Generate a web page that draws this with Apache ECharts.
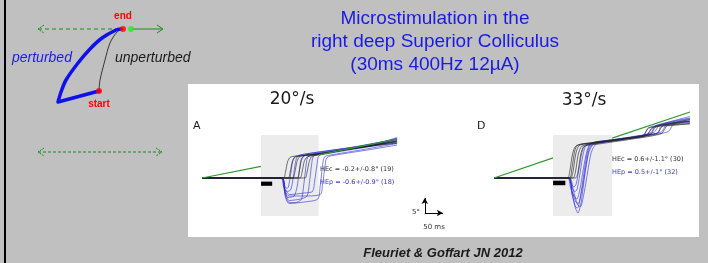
<!DOCTYPE html>
<html><head><meta charset="utf-8">
<script src="https://cdn.jsdelivr.net/npm/echarts/dist/echarts.min.js"></script>
<style>html,body{margin:0;padding:0;background:#c0c0c0;}#c{width:708px;height:263px;}</style>
</head><body><div id="c"></div>
<script>
// ---------- schematic (top-left) ----------
const schemPerturbed = [[99,91],[58,102],[61,92],[66,80],[78,63],[90,49],[102,38],[116,30],[121,29]];
const schemUnperturbed = [[99,91],[100,80],[105,60],[110,43],[117,32],[123,29]];
const schemDashTop = [[38,29],[119,29]];
const schemSolidTop = [[131,29],[162,29]];
const schemArrowL1 = [[44,25],[38,29],[44,33]];
const schemArrowR1 = [[157,25],[163,29],[157,33]];
const schemDashBottom = [[38,152],[162,152]];
const schemArrowL2 = [[44,148],[38,152],[44,156]];
const schemArrowR2 = [[156,148],[162,152],[156,156]];
const schemRedDots = [[99,91],[123,29]];
const schemGreenDot = [[131,29]];

// ---------- panel A (20 deg/s), time ms vs eye position deg ----------
const tStart = -164;
const shadeWinA = [0, 160], shadeDegA = [-12.7, 14.3];
const stimWinA = [0, 31], stimDegA = [-2.6, -1.2];
const targetA_pre = [[-164,0],[0,3.9]];
const targetA_post = [[160,7.7],[378,13.0]];
const blackA = [
  [[62,0],[68,2],[74,5.5],[82,7],[110,7.4],[160,8],[250,9.8],[320,11],[378,12.4]],
  [[75,0],[81,2],[87,5.5],[95,7],[130,7.6],[180,8.3],[260,10],[330,11.2],[378,12]],
  [[88,0],[94,2],[100,5.5],[108,7.2],[140,7.8],[200,8.8],[280,10.4],[378,12.8]],
  [[100,0],[106,2],[112,5.8],[120,7.4],[150,8],[220,9.2],[300,10.6],[378,11.6]],
  [[108,0],[114,2],[120,5.5],[128,7],[160,7.8],[230,9.3],[310,10.8],[378,13.2]],
  [[122,0],[128,2],[134,5.5],[142,7.2],[170,8],[240,9.5],[378,12.2]]
];
const blueA = [
  [[55,0],[63,-3],[72,-4.5],[82,-4],[88,-1],[94,4],[100,7],[115,7.8],[170,8.8],[260,10.3],[330,11.8],[378,13.5]],
  [[56,0],[65,-4],[75,-6.5],[92,-6],[100,-3],[106,2],[112,6.5],[125,7.6],[180,8.8],[270,10.5],[378,13]],
  [[57,0],[66,-5],[76,-8],[95,-8.2],[112,-7.2],[118,-3],[124,3],[130,7],[150,7.8],[220,9.2],[300,10.7],[378,12.6]],
  [[58,0],[67,-4.5],[78,-7.5],[110,-7],[128,-6],[134,-2],[140,4],[146,7.3],[170,8],[240,9.5],[378,12.2]],
  [[58,0],[68,-4],[80,-5.5],[120,-5],[143,-4.5],[149,-1],[155,4],[161,7.4],[190,8.2],[280,10],[378,11.8]],
  [[57,0],[67,-6],[78,-8.5],[120,-8],[158,-7],[164,-3],[170,3],[176,7],[200,7.8],[290,9.6],[378,11.5]],
  [[57,0],[65,-2.5],[72,-3.5],[76,-3],[82,1],[88,5.5],[95,7.2],[150,8.5],[250,10.2],[378,13]],
  [[57,0],[67,-4.5],[78,-6],[120,-6],[165,-5.5],[171,-2],[177,3],[183,6.8],[210,7.7],[300,9.4],[378,11]]
];
const scaleBarT = [455, 505];       // 50 ms
const scaleBarDeg = [-11.67, -6.67]; // 5 deg

// ---------- panel D (33 deg/s) ----------
const shadeWinD = [0, 164], shadeDegD = [-12.7, 14.3];
const stimWinD = [0, 34], stimDegD = [-2.4, -0.9];
const targetD_pre = [[-164,0],[0,6.7]];
const targetD_post = [[164,13.3],[380,22.0]];
const blackD = [
  [[40,0],[46,2],[54,8],[62,10.5],[80,11.3],[130,12],[200,13],[270,14.5],[285,17],[330,18.2],[380,19]],
  [[48,0],[55,2],[63,8],[72,10.8],[100,11.5],[160,12.4],[230,13.8],[290,15],[305,17.5],[380,18.8]],
  [[55,0],[62,2],[70,8],[80,10.6],[120,11.6],[200,13],[260,14.2],[275,16.8],[340,17.6],[380,18.2]],
  [[62,0],[69,2],[77,8],[86,10.5],[130,11.4],[210,12.8],[300,14.8],[318,17.5],[380,18]],
  [[45,0],[52,3],[60,9],[68,11],[110,11.8],[190,13.2],[250,14],[265,16.6],[380,19.5]]
];
const blueD = [
  [[40,0],[48,-3],[58,-6],[66,-7],[74,-4],[84,3],[94,9],[104,11.5],[140,12.2],[200,13.3],[260,14.6],[280,17],[340,18.5],[380,19.5]],
  [[42,0],[52,-5],[62,-9.5],[68,-10],[76,-6],[86,2],[96,9],[108,11.7],[160,12.6],[230,14],[300,15.3],[315,17.8],[380,19]],
  [[42,0],[52,-5],[62,-10],[69,-11.7],[78,-8],[88,1],[98,8],[112,11.2],[170,12.4],[240,13.8],[290,15],[300,17.2],[380,18.5]],
  [[44,0],[52,-3],[60,-4.5],[66,-4],[74,1],[82,7],[92,10.8],[130,11.8],[210,13.3],[270,15],[285,17.5],[380,20]],
  [[43,0],[53,-4.5],[63,-8],[70,-8.5],[80,-4],[90,3],[100,9.5],[114,11.8],[180,12.9],[250,14.2],[265,16.8],[380,19.8]],
  [[45,0],[56,-4],[68,-9],[76,-9.5],[86,-5],[96,2],[106,8.5],[120,11.3],[190,12.7],[260,14],[320,15.5],[335,18],[380,18.8]],
  [[42,0],[50,-2],[58,-3],[64,-2],[72,3],[80,8.5],[90,11],[150,12.2],[220,13.6],[280,15.2],[295,17.6],[380,20.5]]
];

// ---------- text ----------
const titleLines = ['Microstimulation in the', 'right deep Superior Colliculus', '(30ms 400Hz 12µA)'];
const panelTitles = ['20°/s', '33°/s'];
const panelLetters = ['A', 'D'];
const statsA = ['HEc = -0.2+/-0.8° (19)', 'HEp = -0.6+/-0.9° (18)'];
const statsD = ['HEc = 0.6+/-1.1° (30)', 'HEp = 0.5+/-1° (32)'];
const scaleLabels = ['5°', '50 ms'];
const citation = 'Fleuriet & Goffart JN 2012';

const chart = echarts.init(document.getElementById('c'), null, {renderer: 'canvas'});

const GREEN = '#2f9a2f', BLUE_T = 'rgba(45,45,215,0.8)', BLACK_T = 'rgba(35,35,35,0.85)';

function line(data, gi, color, width, extra) {
  return Object.assign({
    type: 'line', xAxisIndex: gi, yAxisIndex: gi, data: data, symbol: 'none', showSymbol: false,
    silent: true, lineStyle: {color: color, width: width}, z: 3
  }, extra || {});
}
function trace(tr, gi, color) {
  return line([[tStart, 0]].concat(tr), gi, color, 0.75, {smooth: 0.25});
}
function areaSeries(gi, win, deg, color, z) {
  return {
    type: 'line', xAxisIndex: gi, yAxisIndex: gi, data: [], symbol: 'none', silent: true, z: z,
    markArea: {silent: true, itemStyle: {color: color, borderWidth: 0},
      data: [[{coord: [win[0], deg[0]]}, {coord: [win[1], deg[1]]}]]}
  };
}

const series = [];
// schematic
series.push(line(schemDashTop, 0, '#1a8a1a', 1, {lineStyle: {color: '#1a8a1a', width: 1, type: [4, 3]}}));
series.push(line(schemSolidTop, 0, '#1a8a1a', 1));
series.push(line(schemArrowL1, 0, '#1a8a1a', 1, {lineStyle: {color: '#1a8a1a', width: 1, type: [2, 1]}}));
series.push(line(schemArrowR1, 0, '#1a8a1a', 1));
series.push(line(schemDashBottom, 0, '#1a8a1a', 1.2, {lineStyle: {color: '#1a8a1a', width: 1.2, type: [3, 2]}}));
series.push(line(schemArrowL2, 0, '#1a8a1a', 1, {lineStyle: {color: '#1a8a1a', width: 1, type: [2, 1]}}));
series.push(line(schemArrowR2, 0, '#1a8a1a', 1, {lineStyle: {color: '#1a8a1a', width: 1, type: [2, 1]}}));
series.push(line(schemUnperturbed, 0, '#111', 0.8, {smooth: 0.3}));
series.push(line(schemPerturbed, 0, '#1010ee', 3.5, {smooth: 0.3, lineStyle: {color: '#1010ee', width: 3.5, join: 'round', cap: 'round'}}));
series.push({type: 'scatter', xAxisIndex: 0, yAxisIndex: 0, data: schemRedDots, symbolSize: 6, itemStyle: {color: '#ff0000'}, silent: true, z: 5});
series.push({type: 'scatter', xAxisIndex: 0, yAxisIndex: 0, data: schemGreenDot, symbolSize: 6, itemStyle: {color: '#22ee22'}, silent: true, z: 5});

// panel A
series.push(areaSeries(1, shadeWinA, shadeDegA, '#ececec', 1));
blueA.forEach(t => series.push(trace(t, 1, BLUE_T)));
blackA.forEach(t => series.push(trace(t, 1, BLACK_T)));
series.push(line(targetA_pre, 1, GREEN, 1.2, {z: 4}));
series.push(line(targetA_post, 1, GREEN, 1.2, {z: 4}));
series.push(areaSeries(1, stimWinA, stimDegA, '#000', 6));
series.push({
  type: 'line', xAxisIndex: 1, yAxisIndex: 1, data: [], symbol: 'none', silent: true, z: 6,
  markLine: {silent: true, symbol: ['none', 'arrow'], symbolSize: [5, 6], label: {show: false},
    lineStyle: {color: '#000', width: 1, type: 'solid'},
    data: [
      [{coord: [scaleBarT[0], scaleBarDeg[0]]}, {coord: [scaleBarT[0], scaleBarDeg[1]]}],
      [{coord: [scaleBarT[0], scaleBarDeg[0]]}, {coord: [scaleBarT[1], scaleBarDeg[0]]}]
    ]}
});

// panel D
series.push(areaSeries(2, shadeWinD, shadeDegD, '#ececec', 1));
blueD.forEach(t => series.push(trace(t, 2, BLUE_T)));
blackD.forEach(t => series.push(trace(t, 2, BLACK_T)));
series.push(line(targetD_pre, 2, GREEN, 1.2, {z: 4}));
series.push(line(targetD_post, 2, GREEN, 1.2, {z: 4}));
series.push(areaSeries(2, stimWinD, stimDegD, '#000', 6));

function txt(x, y, s, font, color, align, extra) {
  return Object.assign({type: 'text', x: x, y: y, z: 100,
    style: {text: s, font: font, fill: color, textAlign: align || 'left', textVerticalAlign: 'middle'}}, extra || {});
}

const graphic = [
  {type: 'rect', shape: {x: 188, y: 84, width: 511, height: 153}, style: {fill: '#ffffff'}, z: -10},
  {type: 'rect', shape: {x: 4, y: 0, width: 2, height: 263}, style: {fill: '#000000'}, z: -10},
  txt(435, 19, titleLines[0], '19px "Liberation Sans", Arial, sans-serif', '#1a1ae6', 'center'),
  txt(435, 42, titleLines[1], '19px "Liberation Sans", Arial, sans-serif', '#1a1ae6', 'center'),
  txt(435, 65, titleLines[2], '19px "Liberation Sans", Arial, sans-serif', '#1a1ae6', 'center'),
  txt(123, 16, 'end', 'bold 10px "Liberation Sans", Arial, sans-serif', '#ff0000', 'center'),
  txt(99, 104, 'start', 'bold 10px "Liberation Sans", Arial, sans-serif', '#ff0000', 'center'),
  txt(12, 58, 'perturbed', 'italic 14px "Liberation Sans", Arial, sans-serif', '#1a1aee', 'left'),
  txt(115, 58, 'unperturbed', 'italic 14px "Liberation Sans", Arial, sans-serif', '#1a1a1a', 'left'),
  txt(292, 100, panelTitles[0], '17px "DejaVu Sans", sans-serif', '#1a1a1a', 'center'),
  txt(584, 101, panelTitles[1], '17px "DejaVu Sans", sans-serif', '#1a1a1a', 'center'),
  txt(193, 126, panelLetters[0], '11px "DejaVu Sans", sans-serif', '#1a1a1a', 'left'),
  txt(477, 126, panelLetters[1], '11px "DejaVu Sans", sans-serif', '#1a1a1a', 'left'),
  txt(320, 169, statsA[0], '6.5px "DejaVu Sans", sans-serif', '#333333', 'left'),
  txt(320, 182, statsA[1], '6.5px "DejaVu Sans", sans-serif', '#3434d0', 'left'),
  txt(612, 159, statsD[0], '6.5px "DejaVu Sans", sans-serif', '#333333', 'left'),
  txt(612, 172, statsD[1], '6.5px "DejaVu Sans", sans-serif', '#3434d0', 'left'),
  txt(420, 212, scaleLabels[0], '7px "DejaVu Sans", sans-serif', '#333333', 'right'),
  txt(434, 227, scaleLabels[1], '7px "DejaVu Sans", sans-serif', '#333333', 'center'),
  txt(443, 253, citation, 'italic bold 13px "Liberation Sans", Arial, sans-serif', '#1a1a1a', 'center')
];

chart.setOption({
  animation: false,
  backgroundColor: '#c0c0c0',
  grid: [
    {left: 0, top: 0, width: 230, height: 160},
    {left: 202, top: 103, width: 248, height: 135},
    {left: 494, top: 103, width: 196, height: 135}
  ],
  xAxis: [
    {type: 'value', gridIndex: 0, min: 0, max: 230, show: false},
    {type: 'value', gridIndex: 1, min: -164, max: 525, show: false},
    {type: 'value', gridIndex: 2, min: -164, max: 380, show: false}
  ],
  yAxis: [
    {type: 'value', gridIndex: 0, min: 0, max: 160, inverse: true, show: false},
    {type: 'value', gridIndex: 1, min: -20, max: 25, show: false},
    {type: 'value', gridIndex: 2, min: -20, max: 25, show: false}
  ],
  graphic: graphic,
  series: series
});
</script></body></html>
